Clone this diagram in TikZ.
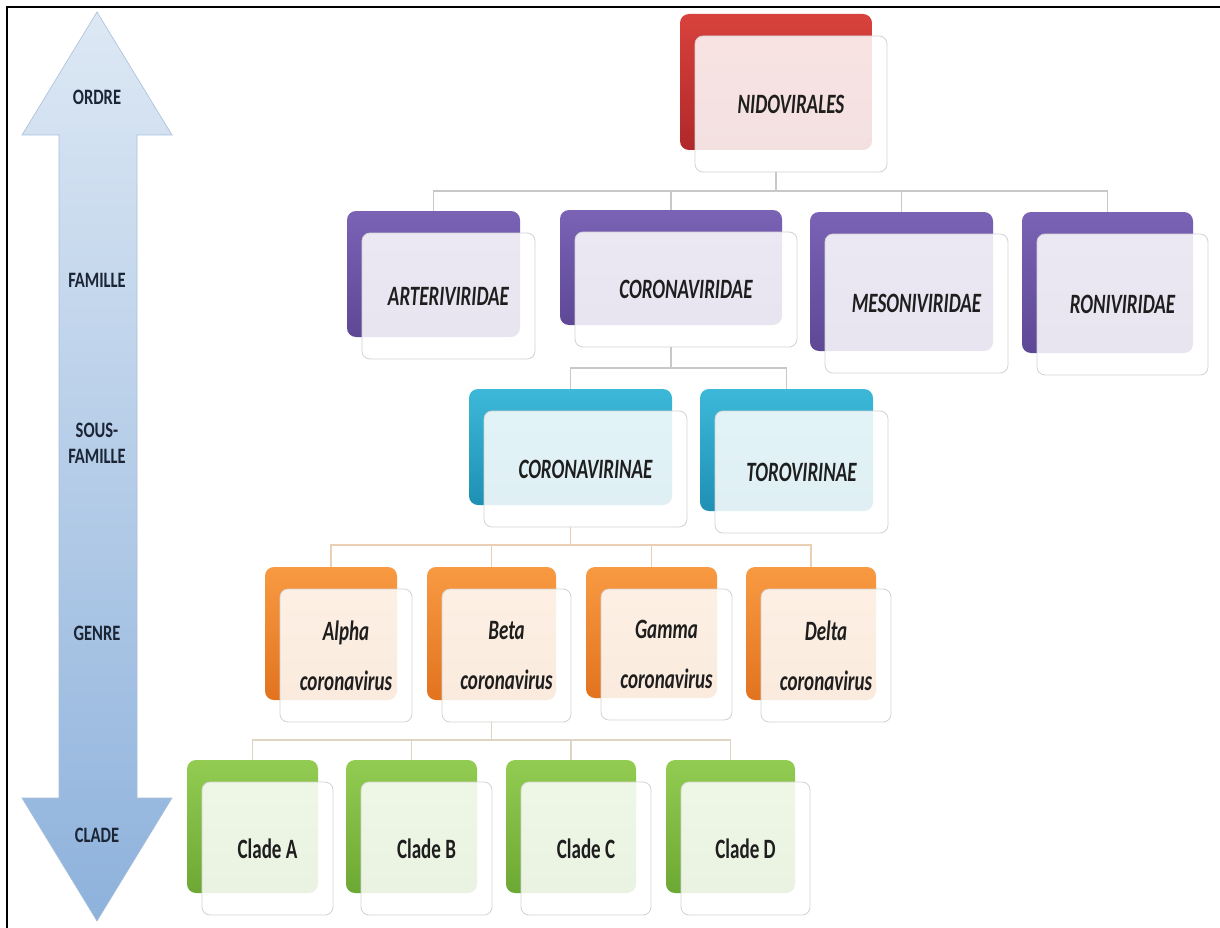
\documentclass[tikz,border=0pt]{standalone}
\usepackage{fontspec}
\setmainfont{Carlito}
\usepackage{graphicx}
\usetikzlibrary{calc}

\definecolor{redA}{HTML}{D8423C}
\definecolor{redB}{HTML}{B0282A}
\definecolor{purA}{HTML}{7A62B5}
\definecolor{purB}{HTML}{5E4896}
\definecolor{cyaA}{HTML}{3DB8D8}
\definecolor{cyaB}{HTML}{1E90B4}
\definecolor{oraA}{HTML}{F89A42}
\definecolor{oraB}{HTML}{E2731F}
\definecolor{grnA}{HTML}{93CC52}
\definecolor{grnB}{HTML}{6DA834}
\definecolor{arrA}{HTML}{DDE8F4}
\definecolor{arrB}{HTML}{8EB2DC}
\definecolor{arrEdge}{HTML}{A9BFD9}
\definecolor{txtC}{HTML}{1E1E1E}
\definecolor{lblC}{HTML}{1C2535}
\definecolor{lineG}{HTML}{C8C8C8}
\definecolor{lineO}{HTML}{EBCFB4}
\definecolor{lineC}{HTML}{E0D5C5}

\newcommand\sq[1]{\scalebox{0.68}[1]{#1}}
\newcommand\sql[1]{\scalebox{0.75}[1]{#1}}

\newcommand\taxon[7]{%
  \pgfmathsetmacro\tbcx{(#3+#5)/2}%
  \pgfmathsetmacro\tbcy{(#4+#6)/2}%
  \pgfmathsetmacro\tbw{#5-#3}%
  \pgfmathsetmacro\tbh{#6-#4}%
  \node[backbox, top color=#2A, bottom color=#2B, minimum width=\tbw pt, minimum height=\tbh pt] (#1-b) at (\tbcx,\tbcy) {};
  \node[frontbox, minimum width=\tbw pt, minimum height=\tbh pt] (#1) at (\tbcx+15,\tbcy+22) {#7};
}

\begin{document}
\begin{tikzpicture}[x=1pt,y=-1pt,
  backbox/.style={rectangle, rounded corners=9pt, inner sep=0pt, draw=none},
  frontbox/.style={rectangle, rounded corners=8pt, inner sep=0pt, fill=white,
    fill opacity=0.86, text opacity=1, draw=gray!35, line width=0.8pt, text=txtC,
    font=\fontsize{28}{50}\selectfont\bfseries\itshape, align=center},
  lvl/.style={text=lblC, font=\fontsize{22}{26}\selectfont\bfseries, align=center, inner sep=0pt},
  link/.style={draw=lineG, line width=1.5pt},
  linkO/.style={draw=lineO, line width=1.5pt},
  linkC/.style={draw=lineC, line width=1.5pt}
]
\useasboundingbox (0,0) rectangle (1220,928);
\fill[white] (0,0) rectangle (1220,928);

% frame
\draw[line width=2pt, black] (7,928) -- (7,7) -- (1220,7);

% scale arrow
\shade[top color=arrA, bottom color=arrB, draw=arrEdge, line width=0.6pt]
  (97,12) -- (172,135) -- (137,135) -- (137,798) -- (172,798) -- (97,921)
  -- (22,798) -- (59,798) -- (59,135) -- (22,135) -- cycle;
\node[lvl] (ordre) at (97,97) {\sql{ORDRE}};
\node[lvl] (famille) at (97,280) {\sql{FAMILLE}};
\node[lvl] (sousfam) at (97,443) {\sql{SOUS-}\\\sql{FAMILLE}};
\node[lvl] (genre) at (97,633) {\sql{GENRE}};
\node[lvl] (clade) at (97,835) {\sql{CLADE}};

% taxa
\taxon{nido}{red}{680}{14}{872}{150}{\sq{NIDOVIRALES}}
\taxon{arteri}{pur}{347}{211}{520}{337}{\sq{ARTERIVIRIDAE}}
\taxon{corona}{pur}{560}{210}{782}{325}{\sq{CORONAVIRIDAE}}
\taxon{meso}{pur}{810}{212}{993}{351}{\sq{MESONIVIRIDAE}}
\taxon{roni}{pur}{1022}{212}{1193}{353}{\sq{RONIVIRIDAE}}
\taxon{cvir}{cya}{469}{389}{672}{505}{\sq{CORONAVIRINAE}}
\taxon{toro}{cya}{700}{389}{873}{511}{\sq{TOROVIRINAE}}
\taxon{alpha}{ora}{265}{567}{397}{700}{\sq{Alpha}\\\sq{coronavirus}}
\taxon{beta}{ora}{427}{567}{556}{700}{\sq{Beta}\\\sq{coronavirus}}
\taxon{gamma}{ora}{586}{567}{717}{698}{\sq{Gamma}\\\sq{coronavirus}}
\taxon{delta}{ora}{746}{567}{876}{700}{\sq{Delta}\\\sq{coronavirus}}
\taxon{cladeA}{grn}{187}{760}{318}{893}{\upshape\sq{Clade A}}
\taxon{cladeB}{grn}{346}{760}{477}{893}{\upshape\sq{Clade B}}
\taxon{cladeC}{grn}{506}{760}{636}{893}{\upshape\sq{Clade C}}
\taxon{cladeD}{grn}{666}{760}{795}{893}{\upshape\sq{Clade D}}

% connectors
\coordinate (bus1) at (0,191);
\coordinate (bus2) at (0,368);
\coordinate (bus3) at (0,545);
\coordinate (bus4) at (0,740);
\foreach \c in {arteri,corona,meso,roni}
  \draw[link] (nido-b.south |- nido.south) -- (nido-b.south |- bus1) -| (\c-b.north);
\foreach \c in {cvir,toro}
  \draw[link] (corona-b.south |- corona.south) -- (corona-b.south |- bus2) -| (\c-b.north);
\foreach \c in {alpha,beta,gamma,delta}
  \draw[linkO] (cvir-b.south |- cvir.south) -- (cvir-b.south |- bus3) -| (\c-b.north);
\foreach \c in {cladeA,cladeB,cladeC,cladeD}
  \draw[linkC] (beta-b.south |- beta.south) -- (beta-b.south |- bus4) -| (\c-b.north);
\end{tikzpicture}
\end{document}
